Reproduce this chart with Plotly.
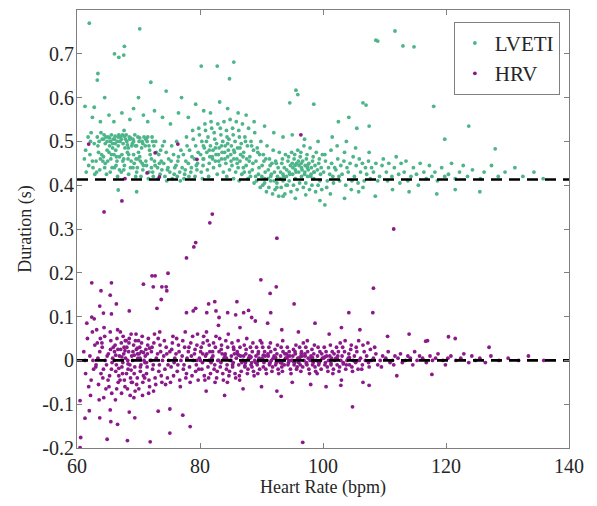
import plotly.graph_objects as go

# ---------------- data ----------------
# LVETI: (heart rate bpm, duration s)
lvet_core = [
(61.2,0.46),(61.5,0.43),(61.8,0.51),(61.4,0.48),(61.9,0.445),
(62.1,0.47),(62.3,0.52),(62.6,0.44),(62.8,0.495),(62.5,0.455),(62.9,0.425),(62.2,0.50),
(63.1,0.455),(63.3,0.51),(63.5,0.475),(63.7,0.435),(63.9,0.52),(63.4,0.49),(63.8,0.46),(63.6,0.50),(63.2,0.43),
(64.1,0.505),(64.3,0.465),(64.5,0.44),(64.7,0.51),(64.9,0.48),(64.2,0.455),(64.6,0.495),(64.8,0.425),(64.4,0.515),(64.0,0.47),
(65.1,0.51),(65.3,0.49),(65.5,0.46),(65.7,0.44),(65.9,0.505),(65.2,0.475),(65.4,0.43),(65.6,0.515),(65.8,0.485),(65.0,0.455),(65.45,0.50),
(66.1,0.505),(66.3,0.48),(66.5,0.455),(66.7,0.51),(66.9,0.435),(66.2,0.495),(66.4,0.465),(66.6,0.42),(66.8,0.515),(66.0,0.47),(66.55,0.50),(66.35,0.445),
(67.1,0.51),(67.3,0.47),(67.5,0.495),(67.7,0.445),(67.9,0.505),(67.2,0.43),(67.4,0.515),(67.6,0.46),(67.8,0.485),(67.0,0.50),(67.45,0.455),(67.65,0.525),
(68.1,0.50),(68.3,0.46),(68.5,0.51),(68.7,0.44),(68.9,0.49),(68.2,0.475),(68.4,0.425),(68.6,0.505),(68.8,0.455),(68.0,0.515),(68.35,0.485),
(69.1,0.505),(69.3,0.45),(69.5,0.49),(69.7,0.43),(69.9,0.51),(69.2,0.47),(69.4,0.515),(69.6,0.46),(69.8,0.44),(69.0,0.495),(69.55,0.42),
(70.1,0.50),(70.3,0.455),(70.5,0.485),(70.7,0.435),(70.9,0.51),(70.2,0.465),(70.4,0.42),(70.6,0.50),(70.8,0.445),(70.0,0.475),
(71.1,0.49),(71.3,0.445),(71.5,0.51),(71.7,0.43),(71.9,0.47),(71.2,0.455),(71.4,0.50),(71.6,0.415),(71.8,0.48),
(72.1,0.46),(72.3,0.43),(72.5,0.49),(72.7,0.445),(72.9,0.475),(72.2,0.51),(72.4,0.42),(72.6,0.455),(72.8,0.50),
(73.1,0.44),(73.3,0.47),(73.5,0.425),(73.7,0.455),(73.9,0.49),(73.2,0.415),(73.6,0.48),(73.8,0.435),
(74.1,0.45),(74.3,0.42),(74.5,0.475),(74.7,0.435),(74.9,0.46),(74.2,0.50),(74.6,0.41),(74.8,0.44),
(75.1,0.43),(75.3,0.455),(75.5,0.415),(75.7,0.47),(75.9,0.44),(75.4,0.49),(75.8,0.425),
(76.1,0.445),(76.3,0.42),(76.5,0.465),(76.7,0.43),(76.9,0.48),(76.4,0.455),(76.8,0.41),(76.2,0.50),
(77.1,0.44),(77.3,0.47),(77.5,0.425),(77.7,0.455),(77.9,0.49),(77.4,0.415),(77.8,0.51),(77.6,0.435),
(78.1,0.45),(78.3,0.48),(78.5,0.43),(78.7,0.465),(78.9,0.505),(78.2,0.42),(78.6,0.44),(78.8,0.525),
(79.1,0.46),(79.3,0.49),(79.5,0.435),(79.7,0.475),(79.9,0.515),(79.2,0.42),(79.6,0.45),(79.8,0.53),(79.4,0.445),
(80.1,0.47),(80.3,0.50),(80.5,0.445),(80.7,0.485),(80.9,0.525),(80.2,0.43),(80.6,0.46),(80.8,0.54),(80.4,0.415),(80.55,0.49),
(81.1,0.475),(81.3,0.51),(81.5,0.45),(81.7,0.49),(81.9,0.53),(81.2,0.435),(81.6,0.465),(81.8,0.545),(81.4,0.42),(81.05,0.50),
(82.1,0.48),(82.3,0.52),(82.5,0.455),(82.7,0.495),(82.9,0.54),(82.2,0.44),(82.6,0.47),(82.8,0.425),(82.4,0.505),(82.05,0.46),
(83.1,0.485),(83.3,0.53),(83.5,0.46),(83.7,0.50),(83.9,0.545),(83.2,0.445),(83.6,0.475),(83.8,0.43),(83.4,0.515),(83.05,0.455),
(84.1,0.49),(84.3,0.525),(84.5,0.465),(84.7,0.505),(84.9,0.55),(84.2,0.45),(84.6,0.48),(84.8,0.435),(84.4,0.51),(84.05,0.46),(84.35,0.42),
(85.1,0.49),(85.3,0.53),(85.5,0.46),(85.7,0.50),(85.9,0.545),(85.2,0.445),(85.6,0.475),(85.8,0.43),(85.4,0.515),(85.05,0.455),(85.45,0.415),
(86.1,0.485),(86.3,0.525),(86.5,0.455),(86.7,0.495),(86.9,0.54),(86.2,0.44),(86.6,0.47),(86.8,0.425),(86.4,0.51),(86.05,0.45),(86.35,0.41),
(87.1,0.475),(87.3,0.51),(87.5,0.445),(87.7,0.49),(87.9,0.53),(87.2,0.43),(87.6,0.46),(87.8,0.415),(87.4,0.50),(87.05,0.44),
(88.1,0.465),(88.3,0.50),(88.5,0.435),(88.7,0.48),(88.9,0.52),(88.2,0.42),(88.6,0.45),(88.8,0.405),(88.4,0.49),(88.05,0.43),
(89.1,0.455),(89.3,0.485),(89.5,0.425),(89.7,0.47),(89.9,0.50),(89.2,0.41),(89.6,0.44),(89.8,0.395),(89.4,0.475),(89.05,0.42),
(90.1,0.445),(90.3,0.47),(90.5,0.415),(90.7,0.46),(90.9,0.49),(90.2,0.40),(90.6,0.43),(90.8,0.385),(90.4,0.455),(90.05,0.42),
(91.1,0.435),(91.3,0.46),(91.5,0.41),(91.7,0.45),(91.9,0.48),(91.2,0.395),(91.6,0.425),(91.8,0.38),(91.4,0.445),(91.05,0.415),
(92.1,0.43),(92.3,0.455),(92.5,0.405),(92.7,0.44),(92.9,0.475),(92.2,0.39),(92.6,0.42),(92.8,0.375),(92.4,0.45),(92.05,0.41),
(93.1,0.43),(93.3,0.45),(93.5,0.41),(93.7,0.44),(93.9,0.47),(93.2,0.395),(93.6,0.42),(93.8,0.38),(93.4,0.46),(93.05,0.415),
(94.1,0.435),(94.3,0.455),(94.5,0.41),(94.7,0.445),(94.9,0.475),(94.2,0.40),(94.6,0.425),(94.8,0.385),(94.4,0.465),(94.05,0.42),
(95.1,0.44),(95.3,0.46),(95.5,0.415),(95.7,0.45),(95.9,0.48),(95.2,0.40),(95.6,0.43),(95.8,0.39),(95.4,0.47),(95.05,0.425),(95.45,0.445),
(96.1,0.445),(96.3,0.465),(96.5,0.42),(96.7,0.455),(96.9,0.49),(96.2,0.405),(96.6,0.435),(96.8,0.395),(96.4,0.475),(96.05,0.43),(96.45,0.45),
(97.1,0.445),(97.3,0.46),(97.5,0.42),(97.7,0.45),(97.9,0.485),(97.2,0.405),(97.6,0.435),(97.8,0.39),(97.4,0.47),(97.05,0.43),(97.45,0.44),
(98.1,0.44),(98.3,0.455),(98.5,0.415),(98.7,0.445),(98.9,0.475),(98.2,0.40),(98.6,0.43),(98.8,0.385),(98.4,0.465),(98.05,0.425),
(99.1,0.435),(99.3,0.45),(99.5,0.41),(99.7,0.44),(99.9,0.47),(99.2,0.40),(99.6,0.425),(99.8,0.39),(99.4,0.46),
(100.1,0.43),(100.4,0.455),(100.7,0.41),(100.9,0.44),(100.3,0.47),(100.6,0.395),
(101.1,0.425),(101.4,0.45),(101.7,0.405),(101.9,0.44),(101.3,0.48),(101.6,0.42),
(102.1,0.435),(102.4,0.46),(102.7,0.41),(102.9,0.445),(102.3,0.49),(102.6,0.42),
(103.1,0.425),(103.4,0.455),(103.7,0.40),(103.9,0.44),(103.5,0.475),
(104.1,0.43),(104.4,0.45),(104.7,0.41),(104.9,0.465),(104.6,0.39),
(105.1,0.42),(105.4,0.445),(105.7,0.405),(105.9,0.46),(105.3,0.485),
(106.1,0.43),(106.4,0.45),(106.7,0.41),(106.9,0.44),(106.5,0.395),
(107.1,0.425),(107.4,0.455),(107.7,0.415),(107.9,0.44),(107.5,0.475),
(108.2,0.43),(108.6,0.45),(108.9,0.41),(109.2,0.42),(109.6,0.445),(109.8,0.46),
(110.3,0.43),(110.7,0.45),(110.5,0.41),(111.2,0.42),(111.6,0.44),(111.9,0.465),
(112.3,0.425),(112.7,0.45),(112.5,0.405),(113.2,0.43),(113.8,0.41),(113.5,0.455),
(114.3,0.42),(114.7,0.44),(115.2,0.425),(115.8,0.45),(115.5,0.40),
(116.4,0.43),(116.8,0.415),(117.3,0.445),(117.7,0.42),(118.2,0.43),(118.6,0.41),
(119.3,0.44),(119.8,0.42),(120.4,0.425),(120.9,0.45),(121.5,0.415),
(122.2,0.43),(122.8,0.445),(123.5,0.42),(124.3,0.435),(125.6,0.415),(126.2,0.43),
(127.4,0.445),(128.5,0.42),(129.6,0.43),(131.2,0.44),(132.5,0.42),(134.3,0.43),(135.8,0.415),
]
# extra density read from the thickest parts of the LVETI cloud
lvet_dense = [
(64.3,0.505),(64.9,0.50),(65.3,0.508),(65.8,0.495),(66.2,0.512),(66.7,0.49),(67.2,0.505),
(67.7,0.512),(68.2,0.492),(68.7,0.508),(69.2,0.50),(69.7,0.49),(70.2,0.508),(70.7,0.495),
(71.2,0.505),(71.7,0.49),(72.3,0.50),(65.6,0.47),(66.9,0.465),(68.4,0.47),(69.9,0.46),
(64.6,0.45),(66.1,0.44),(67.6,0.435),(69.1,0.44),(70.6,0.45),(72.1,0.44),(73.4,0.45),
(81.5,0.48),(82.5,0.485),(83.5,0.49),(84.5,0.495),(85.5,0.48),(86.5,0.485),(83.0,0.47),
(85.0,0.47),(87.0,0.465),(82.0,0.465),(84.0,0.475),(86.0,0.46),(88.0,0.455),(80.5,0.46),
(94.5,0.43),(95.5,0.435),(96.5,0.44),(97.5,0.445),(98.5,0.43),(95.0,0.45),(96.0,0.455),
(97.0,0.425),(98.0,0.42),(93.5,0.425),(91.5,0.42),(90.5,0.405),(92.5,0.395),(94.0,0.40),
]
lvet_upper = [
(62.5,0.555),(63.8,0.545),(65.2,0.56),(66.0,0.545),(67.3,0.565),(68.6,0.55),(69.2,0.575),
(70.8,0.56),(71.5,0.545),(72.6,0.57),(73.9,0.555),(75.2,0.54),(76.5,0.565),(78.1,0.555),
(79.3,0.585),(80.6,0.57),(81.7,0.565),(83.2,0.59),(84.5,0.575),(86.2,0.565),(87.5,0.56),
(88.8,0.545),(90.5,0.535),(92.0,0.52),(93.5,0.51),(95.0,0.515),(97.0,0.505),(99.2,0.50),
(101.5,0.51),(103.8,0.50),(105.5,0.53),(104.2,0.555),(102.5,0.545),
]
lvet_lower = [
(66.7,0.389),(69.7,0.385),(93.5,0.375),(95.5,0.37),(97.2,0.378),(99.5,0.365),(100.3,0.355),
(101.2,0.38),(103.5,0.37),(105.8,0.385),(108.5,0.375),(111.3,0.39),(114.0,0.385),
(118.5,0.38),(121.5,0.39),(125.5,0.385),
]
lvet_outliers = [
(62.0,0.77),(70.2,0.757),(67.7,0.717),(66.1,0.70),(67.6,0.697),(66.8,0.692),(63.4,0.655),
(63.3,0.64),(72.0,0.635),(74.5,0.615),(61.3,0.58),(62.8,0.578),(64.5,0.60),(70.0,0.60),
(77.0,0.60),(80.2,0.672),(82.8,0.672),(85.5,0.681),(84.8,0.643),(95.6,0.617),(95.9,0.607),
(94.6,0.588),(98.5,0.585),(106.5,0.588),(107.0,0.583),(118.0,0.58),(107.5,0.535),
(123.7,0.535),(119.8,0.505),(128.0,0.483),(108.6,0.731),(108.9,0.729),(111.7,0.752),
(113.0,0.718),(114.8,0.716),
]

# HRV: (heart rate bpm, duration s)
hrv_core = [
(61.1,0.02),(61.4,-0.03),(61.7,0.05),(61.9,-0.06),(61.3,0.0),(61.6,0.085),
(62.1,0.01),(62.3,-0.045),(62.5,0.065),(62.7,-0.02),(62.9,0.035),(62.2,-0.08),(62.6,0.0),(62.8,0.095),
(63.1,-0.01),(63.3,0.04),(63.5,-0.055),(63.7,0.02),(63.9,-0.03),(63.2,0.07),(63.4,0.005),(63.6,-0.09),(63.8,0.05),(63.05,-0.015),
(64.1,0.03),(64.3,-0.02),(64.5,0.055),(64.7,-0.065),(64.9,0.01),(64.2,-0.04),(64.4,0.075),(64.6,0.0),(64.8,-0.01),(64.05,0.04),(64.35,-0.085),
(65.1,0.015),(65.3,-0.035),(65.5,0.045),(65.7,-0.005),(65.9,0.03),(65.2,-0.06),(65.4,0.065),(65.6,-0.02),(65.8,0.005),(65.05,-0.045),(65.45,0.025),(65.65,-0.075),
(66.1,0.02),(66.3,-0.025),(66.5,0.05),(66.7,-0.05),(66.9,0.01),(66.2,0.035),(66.4,-0.01),(66.6,0.07),(66.8,-0.035),(66.05,0.0),(66.45,-0.065),(66.65,0.025),(66.25,-0.09),
(67.1,0.025),(67.3,-0.015),(67.5,0.055),(67.7,-0.045),(67.9,0.005),(67.2,0.04),(67.4,-0.03),(67.6,0.015),(67.8,-0.06),(67.05,0.065),(67.45,-0.005),(67.65,0.03),(67.25,-0.075),(67.85,0.045),
(68.1,0.03),(68.3,-0.02),(68.5,0.05),(68.7,-0.04),(68.9,0.01),(68.2,-0.065),(68.4,0.02),(68.6,-0.01),(68.8,0.06),(68.05,-0.03),(68.45,0.04),(68.65,-0.08),(68.25,0.0),(68.85,-0.05),
(69.1,0.02),(69.3,-0.03),(69.5,0.045),(69.7,-0.055),(69.9,0.005),(69.2,0.035),(69.4,-0.015),(69.6,0.06),(69.8,-0.04),(69.05,0.0),(69.45,-0.07),(69.65,0.025),(69.25,-0.085),(69.85,0.015),
(70.1,0.015),(70.3,-0.025),(70.5,0.04),(70.7,-0.05),(70.9,0.0),(70.2,0.03),(70.4,-0.01),(70.6,0.055),(70.8,-0.035),(70.05,-0.065),(70.45,0.02),(70.65,-0.08),(70.25,0.005),
(71.1,0.01),(71.3,-0.03),(71.5,0.035),(71.7,-0.045),(71.9,0.0),(71.2,0.025),(71.4,-0.015),(71.6,0.05),(71.8,-0.06),(71.05,-0.005),(71.45,0.015),(71.65,-0.075),
(72.1,0.02),(72.3,-0.02),(72.5,0.04),(72.7,-0.04),(72.9,0.005),(72.2,0.03),(72.4,-0.01),(72.6,0.06),(72.8,-0.055),(72.05,0.0),(72.45,-0.07),
(73.1,0.015),(73.3,-0.025),(73.5,0.035),(73.7,-0.035),(73.9,0.0),(73.2,0.05),(73.4,-0.01),(73.6,0.02),(73.8,-0.05),(73.45,0.065),
(74.1,0.01),(74.3,-0.02),(74.5,0.03),(74.7,-0.04),(74.9,0.0),(74.2,0.045),(74.4,-0.055),(74.6,0.015),(74.8,-0.01),
(75.1,0.02),(75.3,-0.015),(75.5,0.04),(75.7,-0.035),(75.9,0.005),(75.2,-0.05),(75.4,0.025),(75.6,0.055),(75.8,-0.005),
(76.1,0.015),(76.3,-0.025),(76.5,0.035),(76.7,-0.045),(76.9,0.0),(76.2,0.05),(76.4,-0.01),(76.6,0.02),(76.8,-0.06),
(77.1,0.01),(77.3,-0.02),(77.5,0.03),(77.7,-0.04),(77.9,0.005),(77.2,0.045),(77.4,-0.01),(77.6,0.065),(77.8,-0.03),
(78.1,0.02),(78.3,-0.015),(78.5,0.04),(78.7,-0.035),(78.9,0.0),(78.2,0.03),(78.4,-0.05),(78.6,0.01),(78.8,0.055),
(79.1,0.015),(79.3,-0.025),(79.5,0.035),(79.7,-0.045),(79.9,0.005),(79.2,0.025),(79.4,-0.01),(79.6,0.06),(79.8,-0.02),(79.45,0.0),
(80.1,0.02),(80.3,-0.02),(80.5,0.04),(80.7,-0.035),(80.9,0.01),(80.2,0.03),(80.4,-0.005),(80.6,0.055),(80.8,-0.045),(80.05,0.0),(80.45,0.015),
(81.1,0.015),(81.3,-0.015),(81.5,0.035),(81.7,-0.03),(81.9,0.005),(81.2,0.045),(81.4,-0.04),(81.6,0.02),(81.8,-0.005),(81.05,0.065),(81.45,0.0),
(82.1,0.01),(82.3,-0.02),(82.5,0.03),(82.7,-0.04),(82.9,0.0),(82.2,0.04),(82.4,-0.01),(82.6,0.055),(82.8,-0.025),(82.05,0.02),(82.45,-0.05),
(83.1,0.02),(83.3,-0.015),(83.5,0.035),(83.7,-0.03),(83.9,0.005),(83.2,0.05),(83.4,-0.005),(83.6,0.015),(83.8,-0.045),(83.05,0.0),(83.45,0.025),
(84.1,0.015),(84.3,-0.02),(84.5,0.03),(84.7,-0.035),(84.9,0.0),(84.2,0.045),(84.4,-0.01),(84.6,0.06),(84.8,-0.025),(84.05,0.01),(84.45,-0.05),
(85.1,0.01),(85.3,-0.015),(85.5,0.025),(85.7,-0.03),(85.9,0.005),(85.2,0.04),(85.4,-0.005),(85.6,0.015),(85.8,-0.04),(85.05,0.0),(85.45,0.03),
(86.1,0.015),(86.3,-0.01),(86.5,0.03),(86.7,-0.025),(86.9,0.0),(86.2,0.045),(86.4,-0.035),(86.6,0.01),(86.8,-0.005),(86.05,0.02),(86.45,-0.045),
(87.1,0.01),(87.3,-0.015),(87.5,0.025),(87.7,-0.03),(87.9,0.005),(87.2,0.035),(87.4,-0.005),(87.6,0.05),(87.8,-0.02),(87.05,0.0),(87.45,0.015),
(88.1,0.005),(88.3,-0.01),(88.5,0.02),(88.7,-0.025),(88.9,0.0),(88.2,0.03),(88.4,-0.005),(88.6,0.04),(88.8,-0.035),(88.05,0.01),(88.45,-0.015),
(89.1,0.01),(89.3,-0.01),(89.5,0.02),(89.7,-0.02),(89.9,0.0),(89.2,0.03),(89.4,-0.03),(89.6,0.005),(89.8,0.045),(89.05,-0.005),(89.45,0.015),
(90.1,0.005),(90.3,-0.015),(90.5,0.02),(90.7,-0.02),(90.9,0.0),(90.2,0.03),(90.4,-0.005),(90.6,0.01),(90.8,-0.03),(90.05,0.04),(90.45,0.0),
(91.1,0.01),(91.3,-0.01),(91.5,0.02),(91.7,-0.025),(91.9,0.005),(91.2,0.03),(91.4,-0.005),(91.6,0.0),(91.8,-0.015),(91.05,0.015),(91.45,0.04),
(92.1,0.005),(92.3,-0.01),(92.5,0.015),(92.7,-0.02),(92.9,0.0),(92.2,0.025),(92.4,-0.005),(92.6,0.035),(92.8,-0.03),(92.05,0.01),(92.45,0.0),
(93.1,0.01),(93.3,-0.015),(93.5,0.02),(93.7,-0.01),(93.9,0.005),(93.2,0.03),(93.4,-0.025),(93.6,0.0),(93.8,0.015),(93.05,-0.005),(93.45,0.045),
(94.1,0.005),(94.3,-0.01),(94.5,0.02),(94.7,-0.02),(94.9,0.0),(94.2,0.03),(94.4,-0.005),(94.6,0.01),(94.8,-0.03),(94.05,0.015),(94.45,0.0),
(95.1,0.01),(95.3,-0.01),(95.5,0.015),(95.7,-0.02),(95.9,0.005),(95.2,0.025),(95.4,-0.005),(95.6,0.035),(95.8,-0.015),(95.05,0.0),(95.45,0.02),
(96.1,0.005),(96.3,-0.01),(96.5,0.02),(96.7,-0.015),(96.9,0.0),(96.2,0.03),(96.4,-0.025),(96.6,0.01),(96.8,0.04),(96.05,-0.005),(96.45,0.015),
(97.1,0.01),(97.3,-0.005),(97.5,0.02),(97.7,-0.02),(97.9,0.0),(97.2,0.03),(97.4,-0.01),(97.6,0.005),(97.8,-0.03),(97.05,0.015),(97.45,0.045),
(98.1,0.005),(98.3,-0.01),(98.5,0.015),(98.7,-0.015),(98.9,0.0),(98.2,0.025),(98.4,-0.005),(98.6,0.035),(98.8,-0.025),(98.05,0.01),(98.45,0.0),
(99.1,0.01),(99.3,-0.01),(99.5,0.02),(99.7,-0.02),(99.9,0.005),(99.2,0.03),(99.4,-0.005),(99.6,0.0),(99.8,0.015),(99.05,-0.03),
(100.1,0.005),(100.3,-0.01),(100.5,0.02),(100.7,-0.015),(100.9,0.0),(100.2,0.03),(100.4,-0.005),(100.6,0.01),(100.8,-0.025),
(101.1,0.01),(101.3,-0.01),(101.5,0.02),(101.7,-0.02),(101.9,0.0),(101.2,0.035),(101.4,0.005),(101.6,-0.03),(101.8,0.015),
(102.1,0.005),(102.3,-0.01),(102.5,0.02),(102.7,-0.015),(102.9,0.0),(102.2,0.03),(102.4,0.01),(102.6,-0.025),(102.8,0.04),
(103.1,0.01),(103.3,-0.005),(103.5,0.02),(103.7,-0.02),(103.9,0.0),(103.2,0.03),(103.6,0.045),(103.8,-0.01),
(104.1,0.005),(104.3,-0.01),(104.5,0.025),(104.7,-0.015),(104.9,0.0),(104.2,0.015),(104.6,0.035),(104.8,-0.025),
(105.1,0.01),(105.3,-0.005),(105.5,0.02),(105.7,-0.02),(105.9,0.0),(105.4,0.03),(105.8,0.045),
(106.1,0.005),(106.4,-0.01),(106.7,0.02),(106.9,0.0),(106.5,0.035),(106.3,-0.02),
(107.1,0.01),(107.4,-0.005),(107.7,0.025),(107.9,0.0),(107.5,-0.015),(107.3,0.04),
(108.2,0.005),(108.6,0.015),(108.9,-0.01),(108.4,0.03),(109.3,0.0),(109.7,0.01),(109.5,-0.015),
(110.2,0.005),(110.6,0.02),(110.9,-0.005),(111.3,0.0),(111.7,0.01),(111.5,-0.01),
(112.2,0.005),(112.6,0.015),(112.9,-0.005),(113.4,0.0),(113.8,0.01),
(114.2,0.005),(114.6,-0.01),(114.9,0.02),(115.3,0.0),(115.7,0.01),(116.2,0.005),(116.8,-0.005),
(117.4,0.01),(117.8,0.0),(118.3,0.005),(118.7,0.015),(119.5,0.0),(119.9,-0.01),
(120.3,0.005),(120.8,0.01),(121.6,0.0),(122.4,0.005),(122.9,0.015),(123.7,-0.005),
(124.2,0.01),(124.8,0.0),(125.5,0.005),(126.4,-0.005),(127.3,0.01),(128.6,0.0),
(130.1,0.005),(131.8,0.0),(133.4,0.01),(135.9,0.0),
]
# extra density read from the thickest parts of the HRV cloud
hrv_dense = [
(66.3,0.012),(66.8,-0.018),(67.3,0.008),(67.8,0.022),(68.3,-0.008),(68.8,-0.022),(69.3,0.012),
(69.8,0.028),(70.3,-0.015),(70.8,0.018),(71.3,-0.005),(71.8,0.028),(67.0,-0.045),(68.0,0.045),
(69.0,-0.05),(70.0,0.045),(71.0,-0.04),(84.3,0.005),(85.3,-0.01),(86.3,0.012),(87.3,-0.012),
(88.3,0.008),(89.3,-0.004),(90.3,0.012),(91.3,-0.008),(92.3,0.006),(93.3,-0.006),(94.3,0.01),
(95.3,-0.004),(96.3,0.008),(97.3,-0.008),(98.3,0.006),(99.3,-0.004),(100.3,0.008),
(101.3,-0.006),(102.3,0.004),(103.3,-0.008),(104.3,0.006),(105.3,-0.004),
]
hrv_spread = [
(83.0,0.08),(86.5,0.075),(89.0,0.09),(91.0,0.085),(93.3,0.07),(96.0,0.065),(98.7,0.085),
(101.0,0.06),(103.0,0.075),(106.0,0.07),(110.5,0.055),(114.0,0.06),(117.0,0.045),
(121.5,0.05),(127.0,0.03),(81.0,-0.07),(84.0,-0.08),(87.0,-0.065),(90.0,-0.06),
(92.5,-0.07),(95.0,-0.05),(98.0,-0.055),(100.5,-0.06),(103.0,-0.045),(106.5,-0.05),(112.0,-0.035),
]
hrv_outliers = [
(82.0,0.334),(81.6,0.314),(79.3,0.269),(79.0,0.259),(77.8,0.234),(92.5,0.279),(72.2,0.193),
(72.7,0.193),(74.8,0.199),(70.8,0.174),(72.4,0.168),(73.8,0.168),(74.5,0.168),(74.6,0.159),
(73.7,0.139),(73.0,0.119),(89.9,0.184),(92.4,0.168),(91.4,0.153),(95.3,0.129),(86.0,0.134),
(82.4,0.134),(81.4,0.129),(79.3,0.119),(78.9,0.113),(77.8,0.109),(87.9,0.114),(82.6,0.113),
(84.5,0.109),(87.1,0.109),(83.1,0.098),(85.8,0.104),(88.4,0.098),(91.5,0.109),(81.1,0.109),
(62.4,0.177),(65.6,0.177),(63.9,0.159),(65.4,0.149),(63.7,0.124),(66.4,0.129),(68.5,0.113),
(62.4,0.099),(64.3,0.108),(65.6,0.106),(108.2,0.165),(108.1,0.109),(104.2,0.109),
(120.4,0.054),(116.7,0.044),
(60.5,-0.199),(60.6,-0.176),(64.9,-0.180),(68.2,-0.183),(71.9,-0.186),(75.1,-0.166),
(78.4,-0.151),(61.3,-0.132),(60.5,-0.092),(63.7,-0.131),(65.5,-0.140),(66.6,-0.146),
(62.0,-0.115),(69.4,-0.131),(65.4,-0.113),(68.5,-0.118),(73.2,-0.116),(75.1,-0.111),
(77.2,-0.125),(96.7,-0.187),(104.8,-0.106),(93.2,-0.082),(107.5,-0.057),(102.9,-0.057),
(117.7,-0.032),
(61.9,0.494),(72.7,0.474),(76.4,0.494),(79.5,0.459),(71.4,0.428),(67.8,0.415),(73.4,0.419),
(96.4,0.515),(67.3,0.364),(64.4,0.339),(111.5,0.30),
]

lvet_mean = 0.413
hrv_mean = 0.0

x_ticks = [60, 80, 100, 120, 140]
y_ticks = [-0.2, -0.1, 0, 0.1, 0.2, 0.3, 0.4, 0.5, 0.6, 0.7, 0.8]
y_tick_labels = ["-0.2", "-0.1", "0", "0.1", "0.2", "0.3", "0.4", "0.5", "0.6", "0.7", "0.8"]
x_range = [60, 140]
y_range = [-0.2, 0.8]

# ---------------- figure ----------------
GREEN = "#4db589"
PURPLE = "#8a1a8a"
FONT = "Liberation Serif, Times New Roman, serif"
TXT = "#262626"

lvet_all = lvet_core + lvet_dense + lvet_upper + lvet_lower + lvet_outliers
hrv_all = hrv_core + hrv_dense + hrv_spread + hrv_outliers

fig = go.Figure()
fig.add_trace(go.Scatter(
    x=[p[0] for p in lvet_all], y=[p[1] for p in lvet_all],
    mode="markers", name="LVETI",
    marker=dict(color=GREEN, size=3.8, line=dict(width=0)),
))
fig.add_trace(go.Scatter(
    x=[p[0] for p in hrv_all], y=[p[1] for p in hrv_all],
    mode="markers", name="HRV",
    marker=dict(color=PURPLE, size=3.8, line=dict(width=0)),
))
for m in (lvet_mean, hrv_mean):
    fig.add_trace(go.Scatter(
        x=x_range, y=[m, m], mode="lines", showlegend=False, hoverinfo="skip",
        line=dict(color="black", width=2.6, dash="11px,7px"),
    ))

axis_common = dict(
    showline=True, linecolor="#7f7f7f", linewidth=1, mirror="ticks",
    ticks="inside", ticklen=5, tickcolor="#7f7f7f",
    showgrid=False, zeroline=False,
    tickfont=dict(family=FONT, size=20, color=TXT),
)
fig.update_xaxes(range=x_range, tickvals=x_ticks,
                 title=dict(text="Heart Rate (bpm)", font=dict(family=FONT, size=18, color=TXT), standoff=4),
                 **axis_common)
fig.update_yaxes(range=y_range, tickvals=y_ticks, ticktext=y_tick_labels,
                 ticklabelstandoff=-2,
                 title=dict(text="Duration (s)", font=dict(family=FONT, size=18, color=TXT), standoff=6),
                 **axis_common)

fig.update_layout(
    width=597, height=506,
    margin=dict(l=77, r=28, t=10, b=58),
    plot_bgcolor="white", paper_bgcolor="white",
    legend=dict(
        x=0.766, y=0.973, xanchor="left", yanchor="top",
        bgcolor="white", bordercolor="#7f7f7f", borderwidth=1,
        font=dict(family=FONT, size=21, color=TXT),
        itemsizing="trace", tracegroupgap=0,
    ),
    font=dict(family=FONT),
)

fig.write_html("out.html")
